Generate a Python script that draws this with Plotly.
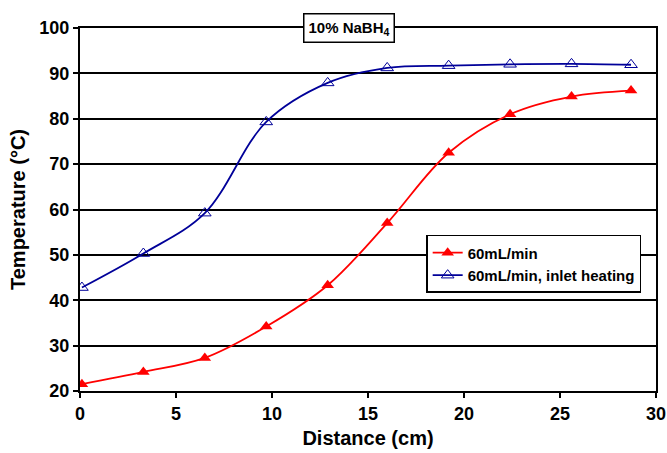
import plotly.graph_objects as go

distance = [0.1, 3.3, 6.5, 9.7, 12.9, 16.0, 19.2, 22.4, 25.6, 28.7]
temp_60 = [21.5, 24.2, 27.3, 34.2, 43.3, 57.0, 72.5, 81.0, 84.9, 86.2]
temp_60_heat = [42.8, 50.3, 59.2, 79.3, 87.9, 91.2, 91.7, 92.0, 92.1, 91.9]
series_names = ["60mL/min", "60mL/min, inlet heating"]

FONT = "Liberation Sans, Arial, sans-serif"

fig = go.Figure()
fig.add_trace(go.Scatter(
    x=distance, y=temp_60, name=series_names[0], mode="lines+markers",
    line=dict(color="#ff0000", width=1.8, shape="spline", smoothing=1.0),
    marker=dict(symbol="triangle-up", size=11, color="#ff0000"),
))
fig.add_trace(go.Scatter(
    x=distance, y=temp_60_heat, name=series_names[1], mode="lines+markers",
    line=dict(color="#000099", width=1.8, shape="spline", smoothing=1.0),
    marker=dict(symbol="triangle-up-open", size=11, color="#000099", line=dict(width=1)),
))

fig.update_layout(
    width=667, height=453,
    margin=dict(l=80, r=11, t=28, b=62, autoexpand=False),
    paper_bgcolor="white", plot_bgcolor="white",
    font=dict(family=FONT, color="black"),
    showlegend=True,
    legend=dict(
        x=0.601, y=0.43, xanchor="left", yanchor="top",
        bgcolor="white", bordercolor="black", borderwidth=1.5,
        font=dict(family=FONT, size=15, color="black", weight="bold"),
        itemwidth=30, tracegroupgap=4,
    ),
    annotations=[dict(
        text="<b>10% NaBH<sub>4</sub></b>", x=0.467, y=1.0, xref="paper", yref="paper",
        xanchor="center", yanchor="middle", showarrow=False,
        bgcolor="white", bordercolor="black", borderwidth=1.5, borderpad=4,
        font=dict(family=FONT, size=15, color="black"),
    )],
)
fig.update_xaxes(
    range=[0, 30], dtick=5, showgrid=False, automargin=False,
    showline=True, linecolor="black", linewidth=2, mirror=True,
    ticks="outside", ticklen=5, tickcolor="black", tickwidth=1.5,
    tickfont=dict(family=FONT, size=18, color="black", weight="bold"),
    title=dict(text="Distance (cm)", font=dict(family=FONT, size=20, color="black", weight="bold"), standoff=8),
    zeroline=False,
)
fig.update_yaxes(
    range=[20, 100], dtick=10, showgrid=True, gridcolor="black", gridwidth=1.5, automargin=False,
    showline=True, linecolor="black", linewidth=2, mirror=True,
    ticks="outside", ticklen=5, tickcolor="black", tickwidth=1.5,
    tickfont=dict(family=FONT, size=18, color="black", weight="bold"),
    title=dict(text="Temperature (°C)", font=dict(family=FONT, size=20, color="black", weight="bold"), standoff=8),
    zeroline=False,
)

fig.write_html("out.html")
